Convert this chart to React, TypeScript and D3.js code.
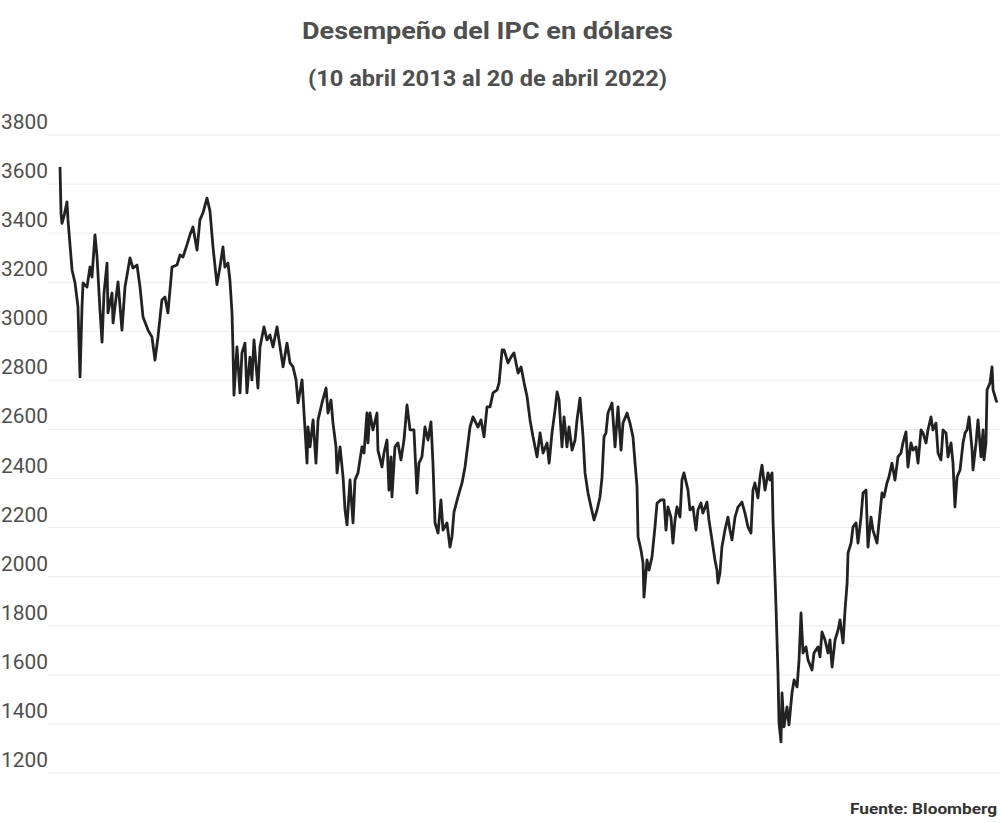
import { useEffect, useRef } from 'react';
import * as d3 from 'd3';

// tiempo en años decimales (10 abr 2013 -> 20 abr 2022)
const fechas = [
  2013.274, 2013.284, 2013.293, 2013.313, 2013.341, 2013.351, 2013.390, 2013.419, 2013.447, 2013.467,
  2013.486, 2013.496, 2013.534, 2013.563, 2013.582, 2013.611, 2013.631, 2013.659, 2013.679, 2013.698,
  2013.727, 2013.736, 2013.775, 2013.785, 2013.823, 2013.833, 2013.871, 2013.900, 2013.948, 2013.977,
  2014.016, 2014.045, 2014.074, 2014.122, 2014.160, 2014.189, 2014.218, 2014.256, 2014.285, 2014.314,
  2014.353, 2014.401, 2014.430, 2014.459, 2014.497, 2014.526, 2014.555, 2014.594, 2014.622, 2014.651,
  2014.690, 2014.719, 2014.748, 2014.786, 2014.815, 2014.844, 2014.863, 2014.892, 2014.911, 2014.931,
  2014.940, 2014.950, 2014.979, 2015.008, 2015.027, 2015.056, 2015.075, 2015.104, 2015.123, 2015.143,
  2015.181, 2015.201, 2015.239, 2015.268, 2015.297, 2015.326, 2015.365, 2015.394, 2015.423, 2015.461,
  2015.490, 2015.519, 2015.548, 2015.567, 2015.606, 2015.625, 2015.654, 2015.663, 2015.683, 2015.712,
  2015.740, 2015.760, 2015.798, 2015.837, 2015.856, 2015.885, 2015.904, 2015.933, 2015.943, 2015.972,
  2016.001, 2016.020, 2016.039, 2016.068, 2016.097, 2016.116, 2016.145, 2016.183, 2016.203, 2016.231,
  2016.241, 2016.260, 2016.289, 2016.328, 2016.337, 2016.376, 2016.395, 2016.424, 2016.443, 2016.463,
  2016.472, 2016.501, 2016.530, 2016.559, 2016.588, 2016.617, 2016.646, 2016.684, 2016.713, 2016.732,
  2016.761, 2016.790, 2016.819, 2016.848, 2016.867, 2016.887, 2016.916, 2016.944, 2016.964, 2017.002,
  2017.031, 2017.050, 2017.070, 2017.108, 2017.147, 2017.176, 2017.205, 2017.224, 2017.253, 2017.301,
  2017.330, 2017.359, 2017.388, 2017.417, 2017.446, 2017.485, 2017.504, 2017.533, 2017.552, 2017.590,
  2017.619, 2017.648, 2017.687, 2017.716, 2017.745, 2017.774, 2017.802, 2017.831, 2017.870, 2017.899,
  2017.928, 2017.966, 2017.986, 2018.014, 2018.043, 2018.063, 2018.082, 2018.110, 2018.130, 2018.158,
  2018.178, 2018.207, 2018.236, 2018.255, 2018.284, 2018.313, 2018.332, 2018.361, 2018.390, 2018.419,
  2018.448, 2018.476, 2018.496, 2018.515, 2018.534, 2018.553, 2018.592, 2018.621, 2018.650, 2018.679,
  2018.698, 2018.737, 2018.765, 2018.794, 2018.814, 2018.833, 2018.843, 2018.871, 2018.891, 2018.900,
  2018.929, 2018.949, 2018.977, 2019.006, 2019.026, 2019.064, 2019.093, 2019.112, 2019.131, 2019.160,
  2019.179, 2019.199, 2019.218, 2019.247, 2019.266, 2019.285, 2019.324, 2019.343, 2019.372, 2019.401,
  2019.420, 2019.449, 2019.468, 2019.507, 2019.526, 2019.555, 2019.584, 2019.603, 2019.613, 2019.632,
  2019.651, 2019.680, 2019.709, 2019.728, 2019.748, 2019.777, 2019.806, 2019.844, 2019.873, 2019.902,
  2019.931, 2019.950, 2019.969, 2019.998, 2020.018, 2020.037, 2020.066, 2020.095, 2020.114, 2020.134,
  2020.143, 2020.153, 2020.172, 2020.191, 2020.201, 2020.220, 2020.230, 2020.249, 2020.278, 2020.297,
  2020.326, 2020.346, 2020.375, 2020.394, 2020.413, 2020.432, 2020.461, 2020.480, 2020.519, 2020.538,
  2020.577, 2020.596, 2020.615, 2020.644, 2020.673, 2020.692, 2020.712, 2020.741, 2020.770, 2020.789,
  2020.818, 2020.837, 2020.857, 2020.866, 2020.895, 2020.914, 2020.943, 2020.962, 2020.991, 2021.010,
  2021.039, 2021.058, 2021.087, 2021.106, 2021.145, 2021.164, 2021.193, 2021.212, 2021.241, 2021.260,
  2021.289, 2021.318, 2021.347, 2021.376, 2021.395, 2021.424, 2021.443, 2021.472, 2021.492, 2021.521,
  2021.540, 2021.569, 2021.588, 2021.617, 2021.636, 2021.665, 2021.684, 2021.713, 2021.733, 2021.761,
  2021.781, 2021.810, 2021.829, 2021.858, 2021.877, 2021.896, 2021.916, 2021.945, 2021.974, 2021.993,
  2022.012, 2022.032, 2022.061, 2022.070, 2022.099, 2022.118, 2022.147, 2022.167, 2022.176, 2022.195,
  2022.205, 2022.234, 2022.253, 2022.263, 2022.292, 2022.301,
];

// IPC en dólares
const valores = [
  3670, 3480, 3440, 3470, 3527, 3454, 3250, 3197, 3100, 2814,
  3100, 3197, 3180, 3262, 3221, 3393, 3303, 3087, 2956, 3156,
  3278, 3075, 3156, 3034, 3168, 3201, 3005, 3180, 3299, 3258,
  3270, 3180, 3058, 3005, 2977, 2883, 2977, 3128, 3140, 3075,
  3262, 3270, 3311, 3303, 3352, 3393, 3425, 3331, 3454, 3482,
  3543, 3490, 3344, 3190, 3262, 3344, 3262, 3278, 3209, 3075,
  2936, 2740, 2936, 2749, 2912, 2952, 2749, 2895, 2802, 2965,
  2769, 2936, 3018, 2965, 2985, 2936, 3018, 2936, 2855, 2952,
  2871, 2855, 2802, 2708, 2802, 2667, 2463, 2610, 2529, 2639,
  2463, 2639, 2708, 2769, 2667, 2720, 2626, 2529, 2423, 2529,
  2406, 2272, 2211, 2394, 2219, 2394, 2423, 2529, 2504, 2667,
  2545, 2667, 2598, 2667, 2516, 2447, 2504, 2557, 2353, 2488,
  2325, 2529, 2545, 2476, 2557, 2700, 2598, 2598, 2341, 2463,
  2488, 2610, 2557, 2631, 2463, 2219, 2178, 2313, 2190, 2219,
  2121, 2162, 2264, 2325, 2382, 2447, 2545, 2610, 2651, 2610,
  2639, 2570, 2692, 2692, 2749, 2761, 2790, 2924, 2924, 2871,
  2895, 2912, 2830, 2855, 2790, 2733, 2639, 2570, 2488, 2586,
  2504, 2545, 2463, 2586, 2679, 2753, 2720, 2529, 2651, 2529,
  2610, 2516, 2557, 2639, 2728, 2570, 2423, 2341, 2284, 2231,
  2272, 2325, 2406, 2570, 2586, 2667, 2708, 2529, 2692, 2516,
  2626, 2667, 2626, 2570, 2463, 2366, 2162, 2109, 2056, 1917,
  2068, 2027, 2080, 2203, 2300, 2313, 2313, 2190, 2284, 2243,
  2137, 2231, 2284, 2243, 2394, 2423, 2353, 2272, 2284, 2190,
  2272, 2300, 2259, 2304, 2231, 2150, 2068, 2027, 1974, 2015,
  2121, 2190, 2243, 2190, 2150, 2243, 2284, 2304, 2259, 2203,
  2178, 2353, 2382, 2321, 2406, 2455, 2353, 2423, 2394, 2423,
  2231, 2109, 1877, 1608, 1404, 1327, 1526, 1388, 1469, 1396,
  1526, 1579, 1551, 1661, 1852, 1689, 1714, 1661, 1620, 1689,
  1714, 1673, 1775, 1742, 1689, 1742, 1632, 1742, 1783, 1824,
  1730, 1865, 1974, 2097, 2137, 2203, 2219, 2137, 2243, 2341,
  2353, 2121, 2243, 2190, 2137, 2219, 2341, 2325, 2382, 2406,
  2463, 2394, 2488, 2504, 2545, 2590, 2447, 2545, 2516, 2529,
  2463, 2598, 2586, 2545, 2598, 2651, 2598, 2626, 2504, 2476,
  2598, 2586, 2488, 2545, 2463, 2284, 2406, 2435, 2545, 2586,
  2598, 2651, 2516, 2435, 2545, 2639, 2488, 2598, 2476, 2545,
  2761, 2790, 2855, 2761, 2720, 2710,
];

const yTicks = [1200, 1400, 1600, 1800, 2000, 2200, 2400, 2600, 2800, 3000, 3200, 3400, 3600, 3800];

const titulo = 'Desempeño del IPC en dólares';
const subtitulo = '(10 abril 2013 al 20 de abril 2022)';
const fuente = 'Fuente: Bloomberg';

export default function App() {
  const svgRef = useRef<SVGSVGElement>(null);

  useEffect(() => {
    const svg = d3.select(svgRef.current);
    svg.selectAll('*').remove();

    const W = 1000, H = 823;
    const font = 'Roboto, "Noto Sans", sans-serif';
    const gris = '#4f4f4f';

    svg.append('rect').attr('width', W).attr('height', H).attr('fill', '#fff');

    const x = d3.scaleLinear().domain([fechas[0], fechas[fechas.length - 1]]).range([60, 997]);
    const y = d3.scaleLinear().domain([1200, 3800]).range([773, 135]);

    // titles (the source image is a bit stretched horizontally)
    svg.append('text')
      .attr('x', 302).attr('y', 39)
      .attr('font-family', font).attr('font-size', 24).attr('font-weight', 700)
      .attr('fill', gris)
      .attr('textLength', 371).attr('lengthAdjust', 'spacingAndGlyphs')
      .text(titulo);
    svg.append('text')
      .attr('x', 308).attr('y', 86)
      .attr('font-family', font).attr('font-size', 22).attr('font-weight', 700)
      .attr('fill', gris)
      .attr('textLength', 359).attr('lengthAdjust', 'spacingAndGlyphs')
      .text(subtitulo);

    // grid + y labels
    const grid = svg.append('g');
    yTicks.forEach(v => {
      grid.append('line')
        .attr('x1', 48).attr('x2', W)
        .attr('y1', y(v)).attr('y2', y(v))
        .attr('stroke', '#ececec').attr('stroke-width', 1);
      grid.append('text')
        .attr('x', 1).attr('y', y(v) - 6)
        .attr('font-family', font).attr('font-size', 20)
        .attr('fill', gris)
        .attr('textLength', 47).attr('lengthAdjust', 'spacingAndGlyphs')
        .text(v);
    });

    // series
    const pts = fechas.map((f, i) => [f, valores[i]] as [number, number]);
    const line = d3.line<[number, number]>()
      .x(d => x(d[0]))
      .y(d => y(d[1]));
    svg.append('path')
      .datum(pts)
      .attr('d', line)
      .attr('fill', 'none')
      .attr('stroke', '#222')
      .attr('stroke-width', 2.8)
      .attr('stroke-linejoin', 'round');

    // source
    svg.append('text')
      .attr('x', 850).attr('y', 814)
      .attr('font-family', font).attr('font-size', 15).attr('font-weight', 700)
      .attr('fill', '#333')
      .attr('textLength', 147).attr('lengthAdjust', 'spacingAndGlyphs')
      .text(fuente);
  }, []);

  return (
    <svg
      ref={svgRef}
      width={1000}
      height={823}
      style={{ position: 'absolute', left: 0, top: 0, display: 'block' }}
    />
  );
}
